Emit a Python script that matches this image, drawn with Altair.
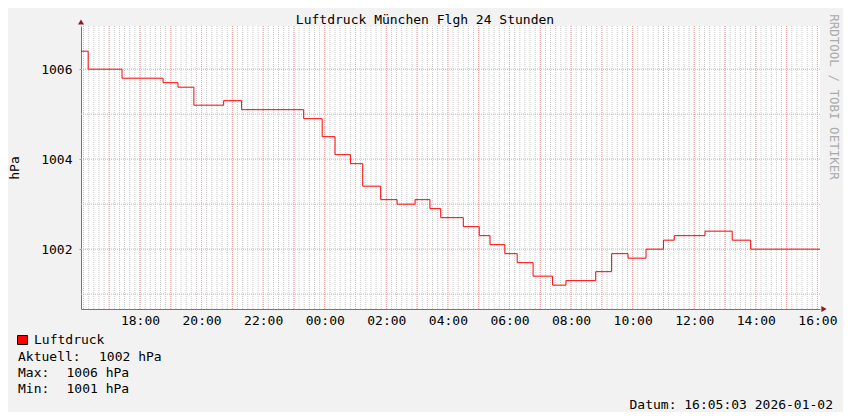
import altair as alt
import pandas as pd

# ---- data ----
times = [
    "2026-01-01T16:05:03", "2026-01-01T16:19:00", "2026-01-01T17:25:00", "2026-01-01T18:45:00",
    "2026-01-01T19:14:00", "2026-01-01T19:45:00", "2026-01-01T20:43:00", "2026-01-01T21:18:00",
    "2026-01-01T23:19:00", "2026-01-01T23:55:00", "2026-01-02T00:20:00", "2026-01-02T00:50:00",
    "2026-01-02T01:14:00", "2026-01-02T01:49:00", "2026-01-02T02:21:00", "2026-01-02T02:56:00",
    "2026-01-02T03:25:00", "2026-01-02T03:46:00", "2026-01-02T04:30:00", "2026-01-02T05:01:00",
    "2026-01-02T05:22:00", "2026-01-02T05:51:00", "2026-01-02T06:15:00", "2026-01-02T06:46:00",
    "2026-01-02T07:24:00", "2026-01-02T07:50:00", "2026-01-02T08:48:00", "2026-01-02T09:19:00",
    "2026-01-02T09:51:00", "2026-01-02T10:26:00", "2026-01-02T11:00:00", "2026-01-02T11:21:00",
    "2026-01-02T12:21:00", "2026-01-02T13:14:00", "2026-01-02T13:50:00", "2026-01-02T16:05:00",
]
pressure = [
    1006.4, 1006.0, 1005.8, 1005.7, 1005.6, 1005.2, 1005.3, 1005.1,
    1004.9, 1004.5, 1004.1, 1003.9, 1003.4, 1003.1, 1003.0, 1003.1,
    1002.9, 1002.7, 1002.5, 1002.3, 1002.1, 1001.9, 1001.7, 1001.4,
    1001.2, 1001.3, 1001.5, 1001.9, 1001.8, 1002.0, 1002.2, 1002.3,
    1002.4, 1002.2, 1002.0, 1002.0,
]
# x tick labels (day, hour) -> shown as "HH:00"
x_ticks = [(1, 18), (1, 20), (1, 22), (2, 0), (2, 2), (2, 4), (2, 6),
           (2, 8), (2, 10), (2, 12), (2, 14), (2, 16)]
y_major = [1002, 1004, 1006]
y_minor = [1001, 1003, 1005]
y_domain = [1000.67, 1006.96]

title_text = "Luftdruck München Flgh 24 Stunden"
y_title = "hPa"
watermark = "RRDTOOL / TOBI OETIKER"
legend_name = "Luftdruck"
legend_keys = ["Aktuell:", "Max:", "Min:"]
legend_vals = ["1002 hPa", "1006 hPa", "1001 hPa"]
date_text = "Datum: 16:05:03 2026-01-02"

FONT = "DejaVu Sans Mono"
W, H = 739, 283
FMT = "%Y-%m-%dT%H:%M:%S"

df = pd.DataFrame({"t": times, "v": pressure})
grid_minor_x = pd.DataFrame({"t": pd.date_range("2026-01-01 16:10", "2026-01-02 16:00", freq="10min").strftime(FMT)})
grid_major_x = pd.DataFrame({"t": pd.date_range("2026-01-01 17:00", "2026-01-02 16:00", freq="1h").strftime(FMT)})
grid_minor_y = pd.DataFrame({"v": y_minor})
grid_major_y = pd.DataFrame({"v": y_major})

x_dom = [
    alt.DateTime(year=2026, month=1, date=1, hours=16, minutes=5, seconds=3),
    alt.DateTime(year=2026, month=1, date=2, hours=16, minutes=5, seconds=3),
]
x_tick_values = [alt.DateTime(year=2026, month=1, date=d, hours=h) for d, h in x_ticks]
xscale = alt.Scale(domain=x_dom, nice=False)
yscale = alt.Scale(domain=y_domain, nice=False, zero=False)

vminor = alt.Chart(grid_minor_x).mark_rule(color="#c8c8c8", strokeDash=[1, 1], strokeWidth=1).encode(
    x=alt.X("t:T", scale=xscale))
hminor = alt.Chart(grid_minor_y).mark_rule(color="#b8b8b8", strokeDash=[1, 1], strokeWidth=1).encode(
    y=alt.Y("v:Q", scale=yscale))
vmajor = alt.Chart(grid_major_x).mark_rule(color="#f2a0a0", strokeDash=[1, 1], strokeWidth=1).encode(
    x=alt.X("t:T", scale=xscale))
hmajor = alt.Chart(grid_major_y).mark_rule(color="#dcaaaa", strokeDash=[1, 1], strokeWidth=1).encode(
    y=alt.Y("v:Q", scale=yscale))

line = alt.Chart(df).mark_line(interpolate="step-after", color="#ff0000", strokeWidth=1).encode(
    x=alt.X("t:T", scale=xscale, axis=alt.Axis(
        values=x_tick_values, format="%H:%M",
        grid=False, labels=True, ticks=False, labelPadding=5, domain=True,
        domainColor="#777777", labelFont=FONT, labelFontSize=13, labelColor="#000000",
        title=None, labelOverlap=False)),
    y=alt.Y("v:Q", scale=yscale, axis=alt.Axis(
        values=y_major, format="d", grid=False, labels=True, ticks=True,
        tickSize=2, tickColor="#999999", labelPadding=7, domain=True, domainColor="#777777",
        labelFont=FONT, labelFontSize=13, labelColor="#000000", title=None)),
)

one = pd.DataFrame({"k": [0]})


def txt(s, x, y, size=13, **kw):
    return alt.Chart(one).mark_text(text=s, font=FONT, fontSize=size, baseline="middle", **kw).encode(
        x=alt.value(x), y=alt.value(y))


legend_box = alt.Chart(one).mark_rect(fill="#ff0000", stroke="#000000", strokeWidth=1).encode(
    x=alt.value(-63.5), x2=alt.value(-53.5), y=alt.value(309.5), y2=alt.value(318.5))

arrow_y = alt.Chart(one).mark_point(shape="triangle-up", size=36, filled=True, fill="#8b1a1a", fillOpacity=1, strokeOpacity=0).encode(
    x=alt.value(0), y=alt.value(-4))
arrow_x = alt.Chart(one).mark_point(shape="triangle-right", size=36, filled=True, fill="#8b1a1a", fillOpacity=1, strokeOpacity=0).encode(
    x=alt.value(W + 4), y=alt.value(H))

layers = [
    vminor, hminor, vmajor, hmajor, line, legend_box, arrow_y, arrow_x,
    txt(title_text, 344, -6, align="center", color="#000000"),
    txt(y_title, -66, 142, align="center", angle=270, color="#000000"),
    txt(watermark, 753, 71, size=12.5, align="center", angle=90, color="#aaaaaa"),
    txt(legend_name, -47, 314, align="left", color="#000000"),
    txt(legend_keys[0], -63, 330.5, align="left", color="#000000"),
    txt(legend_vals[0], 18, 330.5, align="left", color="#000000"),
    txt(legend_keys[1], -63, 346.5, align="left", color="#000000"),
    txt(legend_vals[1], -14.5, 346.5, align="left", color="#000000"),
    txt(legend_keys[2], -63, 362.5, align="left", color="#000000"),
    txt(legend_vals[2], -14.5, 362.5, align="left", color="#000000"),
    txt(date_text, 752, 378.5, align="right", color="#000000"),
]

chart = alt.layer(*layers).properties(
    width=W, height=H,
    autosize=alt.AutoSizeParams(type="none"),
    padding={"left": 73, "top": 18, "right": 23, "bottom": 103},
    background="#f2f2f2",
).configure_view(fill="#ffffff", stroke=None)

chart.save("out.html", embed_options={"renderer": "svg", "actions": False})
